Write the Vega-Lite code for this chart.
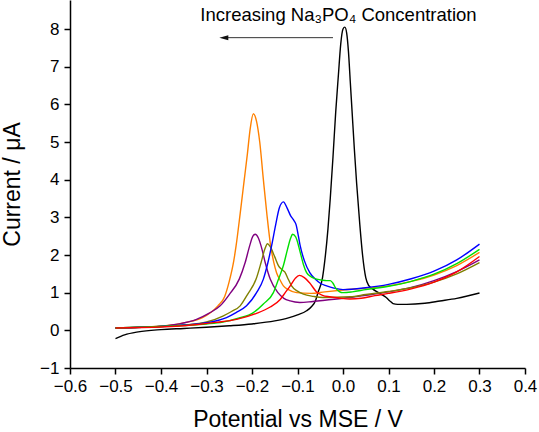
{
  "$schema": "https://vega.github.io/schema/vega-lite/v6.json",
  "width": 455,
  "height": 368,
  "autosize": {"type": "none"},
  "padding": {"left": 70, "top": 0, "right": 14, "bottom": 64},
  "background": "white",
  "config": {
    "view": {"stroke": null},
    "font": "Liberation Sans"
  },
  "datasets": {
    "curves": [
      {"s": "black", "x": -0.5, "y": -0.22}, {"s": "black", "x": -0.48, "y": -0.12}, {"s": "black", "x": -0.45, "y": -0.04},
      {"s": "black", "x": -0.4, "y": 0.02}, {"s": "black", "x": -0.35, "y": 0.05}, {"s": "black", "x": -0.3, "y": 0.08},
      {"s": "black", "x": -0.25, "y": 0.12}, {"s": "black", "x": -0.2, "y": 0.17}, {"s": "black", "x": -0.15, "y": 0.25},
      {"s": "black", "x": -0.12, "y": 0.33}, {"s": "black", "x": -0.1, "y": 0.41}, {"s": "black", "x": -0.08, "y": 0.52},
      {"s": "black", "x": -0.07, "y": 0.62}, {"s": "black", "x": -0.06, "y": 0.8}, {"s": "black", "x": -0.055, "y": 1.0},
      {"s": "black", "x": -0.045, "y": 1.4}, {"s": "black", "x": -0.04, "y": 1.85}, {"s": "black", "x": -0.033, "y": 2.7},
      {"s": "black", "x": -0.028, "y": 3.5}, {"s": "black", "x": -0.022, "y": 4.6}, {"s": "black", "x": -0.016, "y": 5.8},
      {"s": "black", "x": -0.01, "y": 6.8}, {"s": "black", "x": -0.005, "y": 7.6}, {"s": "black", "x": 0.0, "y": 8.0},
      {"s": "black", "x": 0.004, "y": 8.05}, {"s": "black", "x": 0.008, "y": 7.9}, {"s": "black", "x": 0.012, "y": 7.4},
      {"s": "black", "x": 0.016, "y": 6.6}, {"s": "black", "x": 0.02, "y": 5.8}, {"s": "black", "x": 0.025, "y": 4.8},
      {"s": "black", "x": 0.03, "y": 3.9}, {"s": "black", "x": 0.037, "y": 2.8}, {"s": "black", "x": 0.043, "y": 2.0},
      {"s": "black", "x": 0.05, "y": 1.4}, {"s": "black", "x": 0.056, "y": 1.2}, {"s": "black", "x": 0.065, "y": 1.1},
      {"s": "black", "x": 0.075, "y": 1.02}, {"s": "black", "x": 0.085, "y": 0.95}, {"s": "black", "x": 0.095, "y": 0.87},
      {"s": "black", "x": 0.103, "y": 0.78}, {"s": "black", "x": 0.11, "y": 0.71}, {"s": "black", "x": 0.12, "y": 0.69},
      {"s": "black", "x": 0.14, "y": 0.69}, {"s": "black", "x": 0.18, "y": 0.72}, {"s": "black", "x": 0.213, "y": 0.78},
      {"s": "black", "x": 0.25, "y": 0.85}, {"s": "black", "x": 0.3, "y": 0.99},

      {"s": "orange", "x": -0.5, "y": 0.06}, {"s": "orange", "x": -0.45, "y": 0.08}, {"s": "orange", "x": -0.39, "y": 0.12},
      {"s": "orange", "x": -0.345, "y": 0.21}, {"s": "orange", "x": -0.31, "y": 0.33}, {"s": "orange", "x": -0.29, "y": 0.48},
      {"s": "orange", "x": -0.275, "y": 0.65}, {"s": "orange", "x": -0.26, "y": 0.9}, {"s": "orange", "x": -0.25, "y": 1.3},
      {"s": "orange", "x": -0.24, "y": 1.85}, {"s": "orange", "x": -0.235, "y": 2.24}, {"s": "orange", "x": -0.226, "y": 3.1},
      {"s": "orange", "x": -0.217, "y": 4.0}, {"s": "orange", "x": -0.21, "y": 4.7}, {"s": "orange", "x": -0.204, "y": 5.35},
      {"s": "orange", "x": -0.197, "y": 5.75}, {"s": "orange", "x": -0.19, "y": 5.55}, {"s": "orange", "x": -0.183, "y": 5.0},
      {"s": "orange", "x": -0.175, "y": 4.0}, {"s": "orange", "x": -0.167, "y": 3.05}, {"s": "orange", "x": -0.159, "y": 2.24},
      {"s": "orange", "x": -0.152, "y": 1.8}, {"s": "orange", "x": -0.146, "y": 1.53}, {"s": "orange", "x": -0.138, "y": 1.33},
      {"s": "orange", "x": -0.131, "y": 1.18}, {"s": "orange", "x": -0.12, "y": 1.08}, {"s": "orange", "x": -0.102, "y": 1.0},
      {"s": "orange", "x": -0.07, "y": 0.98}, {"s": "orange", "x": -0.04, "y": 1.02}, {"s": "orange", "x": 0.0, "y": 1.07},
      {"s": "orange", "x": 0.05, "y": 1.12}, {"s": "orange", "x": 0.1, "y": 1.18}, {"s": "orange", "x": 0.15, "y": 1.3},
      {"s": "orange", "x": 0.2, "y": 1.47}, {"s": "orange", "x": 0.25, "y": 1.72}, {"s": "orange", "x": 0.3, "y": 2.07},

      {"s": "purple", "x": -0.5, "y": 0.06}, {"s": "purple", "x": -0.45, "y": 0.08}, {"s": "purple", "x": -0.4, "y": 0.11},
      {"s": "purple", "x": -0.36, "y": 0.17}, {"s": "purple", "x": -0.322, "y": 0.29}, {"s": "purple", "x": -0.295, "y": 0.45},
      {"s": "purple", "x": -0.27, "y": 0.65}, {"s": "purple", "x": -0.25, "y": 0.95}, {"s": "purple", "x": -0.228, "y": 1.36},
      {"s": "purple", "x": -0.215, "y": 1.8}, {"s": "purple", "x": -0.205, "y": 2.25}, {"s": "purple", "x": -0.198, "y": 2.5},
      {"s": "purple", "x": -0.193, "y": 2.55}, {"s": "purple", "x": -0.186, "y": 2.45}, {"s": "purple", "x": -0.178, "y": 2.15},
      {"s": "purple", "x": -0.171, "y": 1.8}, {"s": "purple", "x": -0.16, "y": 1.36}, {"s": "purple", "x": -0.143, "y": 1.0},
      {"s": "purple", "x": -0.13, "y": 0.85}, {"s": "purple", "x": -0.116, "y": 0.78}, {"s": "purple", "x": -0.095, "y": 0.74},
      {"s": "purple", "x": -0.07, "y": 0.76}, {"s": "purple", "x": -0.04, "y": 0.8}, {"s": "purple", "x": 0.015, "y": 0.87},
      {"s": "purple", "x": 0.05, "y": 0.93}, {"s": "purple", "x": 0.1, "y": 1.02}, {"s": "purple", "x": 0.15, "y": 1.14},
      {"s": "purple", "x": 0.2, "y": 1.32}, {"s": "purple", "x": 0.25, "y": 1.56}, {"s": "purple", "x": 0.3, "y": 1.87},

      {"s": "olive", "x": -0.5, "y": 0.06}, {"s": "olive", "x": -0.4, "y": 0.1}, {"s": "olive", "x": -0.35, "y": 0.14},
      {"s": "olive", "x": -0.3, "y": 0.22}, {"s": "olive", "x": -0.264, "y": 0.38}, {"s": "olive", "x": -0.245, "y": 0.5},
      {"s": "olive", "x": -0.226, "y": 0.65}, {"s": "olive", "x": -0.21, "y": 0.95}, {"s": "olive", "x": -0.191, "y": 1.36},
      {"s": "olive", "x": -0.18, "y": 1.8}, {"s": "olive", "x": -0.172, "y": 2.15}, {"s": "olive", "x": -0.166, "y": 2.3},
      {"s": "olive", "x": -0.16, "y": 2.22}, {"s": "olive", "x": -0.15, "y": 1.95}, {"s": "olive", "x": -0.142, "y": 1.72},
      {"s": "olive", "x": -0.135, "y": 1.62}, {"s": "olive", "x": -0.128, "y": 1.55}, {"s": "olive", "x": -0.12, "y": 1.35},
      {"s": "olive", "x": -0.113, "y": 1.18}, {"s": "olive", "x": -0.1, "y": 1.04}, {"s": "olive", "x": -0.087, "y": 0.96},
      {"s": "olive", "x": -0.065, "y": 0.9}, {"s": "olive", "x": -0.044, "y": 0.87}, {"s": "olive", "x": 0.016, "y": 0.89},
      {"s": "olive", "x": 0.05, "y": 0.95}, {"s": "olive", "x": 0.1, "y": 1.03}, {"s": "olive", "x": 0.15, "y": 1.13},
      {"s": "olive", "x": 0.2, "y": 1.28}, {"s": "olive", "x": 0.25, "y": 1.5}, {"s": "olive", "x": 0.3, "y": 1.8},

      {"s": "blue", "x": -0.5, "y": 0.06}, {"s": "blue", "x": -0.4, "y": 0.1}, {"s": "blue", "x": -0.35, "y": 0.14},
      {"s": "blue", "x": -0.3, "y": 0.2}, {"s": "blue", "x": -0.256, "y": 0.34}, {"s": "blue", "x": -0.235, "y": 0.47},
      {"s": "blue", "x": -0.212, "y": 0.65}, {"s": "blue", "x": -0.19, "y": 1.0}, {"s": "blue", "x": -0.175, "y": 1.36},
      {"s": "blue", "x": -0.165, "y": 1.8}, {"s": "blue", "x": -0.157, "y": 2.24}, {"s": "blue", "x": -0.148, "y": 2.8},
      {"s": "blue", "x": -0.14, "y": 3.25}, {"s": "blue", "x": -0.131, "y": 3.41}, {"s": "blue", "x": -0.123, "y": 3.25},
      {"s": "blue", "x": -0.115, "y": 3.04}, {"s": "blue", "x": -0.108, "y": 2.92}, {"s": "blue", "x": -0.103, "y": 2.8},
      {"s": "blue", "x": -0.098, "y": 2.5}, {"s": "blue", "x": -0.094, "y": 2.24}, {"s": "blue", "x": -0.085, "y": 1.85},
      {"s": "blue", "x": -0.073, "y": 1.53}, {"s": "blue", "x": -0.06, "y": 1.35}, {"s": "blue", "x": -0.05, "y": 1.25},
      {"s": "blue", "x": -0.036, "y": 1.18}, {"s": "blue", "x": -0.02, "y": 1.12}, {"s": "blue", "x": 0.0, "y": 1.08},
      {"s": "blue", "x": 0.05, "y": 1.13}, {"s": "blue", "x": 0.1, "y": 1.22}, {"s": "blue", "x": 0.15, "y": 1.37},
      {"s": "blue", "x": 0.2, "y": 1.57}, {"s": "blue", "x": 0.25, "y": 1.87}, {"s": "blue", "x": 0.3, "y": 2.29},

      {"s": "green", "x": -0.5, "y": 0.06}, {"s": "green", "x": -0.4, "y": 0.1}, {"s": "green", "x": -0.35, "y": 0.13},
      {"s": "green", "x": -0.3, "y": 0.17}, {"s": "green", "x": -0.264, "y": 0.22}, {"s": "green", "x": -0.23, "y": 0.32},
      {"s": "green", "x": -0.197, "y": 0.47}, {"s": "green", "x": -0.175, "y": 0.7}, {"s": "green", "x": -0.153, "y": 1.0},
      {"s": "green", "x": -0.142, "y": 1.35}, {"s": "green", "x": -0.131, "y": 1.72}, {"s": "green", "x": -0.122, "y": 2.15},
      {"s": "green", "x": -0.115, "y": 2.45}, {"s": "green", "x": -0.111, "y": 2.55}, {"s": "green", "x": -0.104, "y": 2.48},
      {"s": "green", "x": -0.094, "y": 2.07}, {"s": "green", "x": -0.087, "y": 1.75}, {"s": "green", "x": -0.08, "y": 1.53},
      {"s": "green", "x": -0.07, "y": 1.42}, {"s": "green", "x": -0.058, "y": 1.36}, {"s": "green", "x": -0.045, "y": 1.33},
      {"s": "green", "x": -0.036, "y": 1.32}, {"s": "green", "x": -0.028, "y": 1.32}, {"s": "green", "x": -0.022, "y": 1.25},
      {"s": "green", "x": -0.016, "y": 1.12}, {"s": "green", "x": -0.008, "y": 1.03}, {"s": "green", "x": 0.0, "y": 1.0},
      {"s": "green", "x": 0.02, "y": 1.02}, {"s": "green", "x": 0.05, "y": 1.08}, {"s": "green", "x": 0.1, "y": 1.17},
      {"s": "green", "x": 0.15, "y": 1.3}, {"s": "green", "x": 0.2, "y": 1.49}, {"s": "green", "x": 0.25, "y": 1.77},
      {"s": "green", "x": 0.3, "y": 2.15},

      {"s": "red", "x": -0.5, "y": 0.06}, {"s": "red", "x": -0.4, "y": 0.09}, {"s": "red", "x": -0.35, "y": 0.12},
      {"s": "red", "x": -0.314, "y": 0.16}, {"s": "red", "x": -0.28, "y": 0.21}, {"s": "red", "x": -0.234, "y": 0.29},
      {"s": "red", "x": -0.19, "y": 0.45}, {"s": "red", "x": -0.16, "y": 0.62}, {"s": "red", "x": -0.138, "y": 0.82},
      {"s": "red", "x": -0.127, "y": 1.0}, {"s": "red", "x": -0.116, "y": 1.18}, {"s": "red", "x": -0.105, "y": 1.38},
      {"s": "red", "x": -0.096, "y": 1.46}, {"s": "red", "x": -0.085, "y": 1.4}, {"s": "red", "x": -0.074, "y": 1.27},
      {"s": "red", "x": -0.058, "y": 1.02}, {"s": "red", "x": -0.045, "y": 0.93}, {"s": "red", "x": -0.029, "y": 0.89},
      {"s": "red", "x": -0.01, "y": 0.86}, {"s": "red", "x": 0.015, "y": 0.83}, {"s": "red", "x": 0.04, "y": 0.85},
      {"s": "red", "x": 0.07, "y": 0.92}, {"s": "red", "x": 0.1, "y": 0.98}, {"s": "red", "x": 0.15, "y": 1.1},
      {"s": "red", "x": 0.2, "y": 1.28}, {"s": "red", "x": 0.25, "y": 1.55}, {"s": "red", "x": 0.3, "y": 1.96}
    ],
    "arrow": [{"x": -0.022, "x2": -0.262, "y": 7.77}],
    "label": [{"x": -0.01, "y": 8.22, "text": "Increasing Na₃PO₄ Concentration"}]
  },
  "layer": [
    {
      "data": {"name": "curves"},
      "mark": {"type": "line", "strokeWidth": 1.4, "interpolate": "monotone"},
      "encoding": {
        "x": {
          "field": "x", "type": "quantitative",
          "scale": {"domain": [-0.6, 0.4], "nice": false, "zero": false},
          "axis": {
            "title": "Potential vs MSE / V",
            "values": [-0.6, -0.55, -0.5, -0.45, -0.4, -0.35, -0.3, -0.25, -0.2, -0.15, -0.1, -0.05, 0, 0.05, 0.1, 0.15, 0.2, 0.25, 0.3, 0.35, 0.4],
            "format": ".1f",
            "labelExpr": "abs(datum.value*10 - round(datum.value*10)) < 0.001 ? datum.label : ''",
            "tickSize": {"condition": {"test": "abs(datum.value*10 - round(datum.value*10)) < 0.001", "value": 6}, "value": 3.5},
            "grid": false,
            "domainColor": "black", "domainWidth": 1.5,
            "tickColor": "black", "tickWidth": 1.5,
            "labelFont": "Liberation Sans", "labelFontSize": 17, "labelColor": "black", "labelPadding": 4,
            "labelFlush": false, "labelOverlap": false,
            "titleFont": "Liberation Sans", "titleFontSize": 23, "titleFontWeight": "normal", "titleColor": "black", "titlePadding": 14
          }
        },
        "y": {
          "field": "y", "type": "quantitative",
          "scale": {"domain": [-1, 8.77], "nice": false, "zero": false},
          "axis": {
            "title": "Current / μA",
            "values": [-1, -0.5, 0, 0.5, 1, 1.5, 2, 2.5, 3, 3.5, 4, 4.5, 5, 5.5, 6, 6.5, 7, 7.5, 8, 8.5],
            "format": ".0f",
            "labelExpr": "abs(datum.value - round(datum.value)) < 0.001 ? datum.label : ''",
            "tickSize": {"condition": {"test": "abs(datum.value - round(datum.value)) < 0.001", "value": 6}, "value": 3.5},
            "grid": false,
            "domainColor": "black", "domainWidth": 1.5,
            "tickColor": "black", "tickWidth": 1.5,
            "labelFont": "Liberation Sans", "labelFontSize": 17, "labelColor": "black", "labelPadding": 5,
            "labelFlush": false, "labelOverlap": false,
            "titleFont": "Liberation Sans", "titleFontSize": 23, "titleFontWeight": "normal", "titleColor": "black", "titlePadding": 15
          }
        },
        "color": {
          "field": "s", "type": "nominal",
          "scale": {
            "domain": ["black", "orange", "purple", "olive", "blue", "green", "red"],
            "range": ["#000000", "#FF8000", "#800080", "#808000", "#0000FF", "#00E000", "#FF0000"]
          },
          "legend": null
        }
      }
    },
    {
      "data": {"name": "arrow"},
      "mark": {"type": "rule", "color": "#333333", "strokeWidth": 1},
      "encoding": {
        "x": {"field": "x", "type": "quantitative"},
        "x2": {"field": "x2"},
        "y": {"field": "y", "type": "quantitative"}
      }
    },
    {
      "data": {"name": "arrow"},
      "mark": {"type": "point", "shape": "M -1 0 L 1 -0.55 L 1 0.55 Z", "filled": true, "color": "#111111", "size": 81, "opacity": 1},
      "encoding": {
        "x": {"field": "x2", "type": "quantitative"},
        "y": {"field": "y", "type": "quantitative"}
      }
    },
    {
      "data": {"name": "label"},
      "mark": {"type": "text", "font": "Liberation Sans", "fontSize": 18.5, "color": "black", "align": "center", "baseline": "alphabetic"},
      "encoding": {
        "x": {"field": "x", "type": "quantitative"},
        "y": {"field": "y", "type": "quantitative"},
        "text": {"field": "text"}
      }
    }
  ]
}
